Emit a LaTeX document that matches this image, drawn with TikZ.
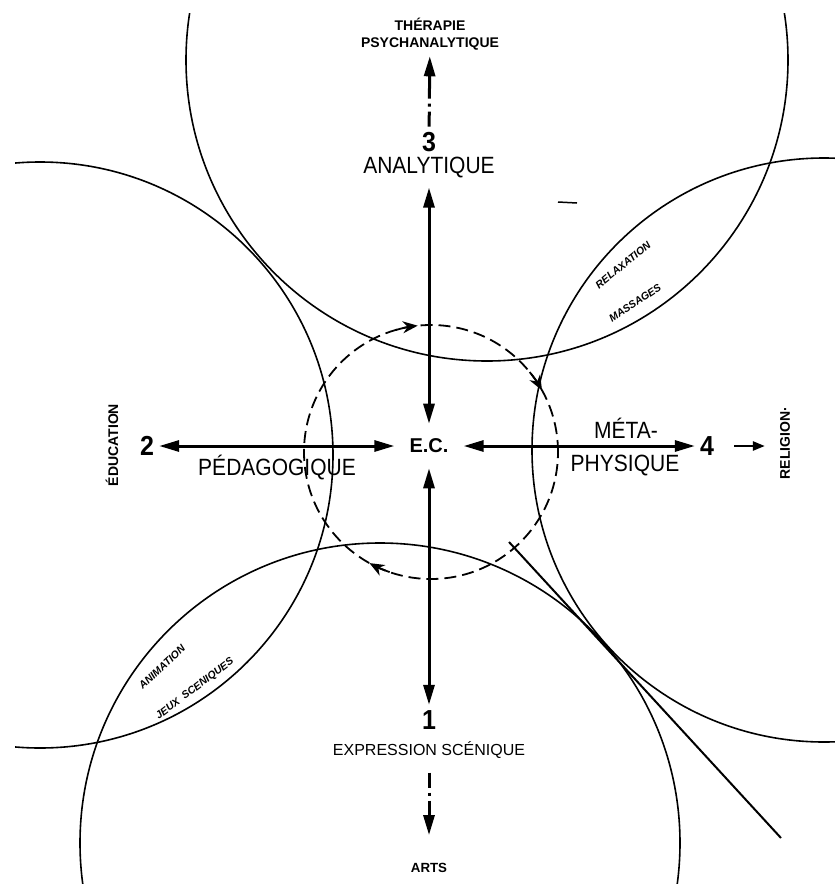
\documentclass[tikz,border=0pt]{standalone}
\usepackage{fontspec}
\setmainfont{Liberation Sans}
\usetikzlibrary{arrows.meta}

\begin{document}
\begin{tikzpicture}[
    x=1pt, y=-1pt,
    every node/.style={inner sep=2pt},
    ring/.style={line width=1.6pt},
    lbl/.style={font=\fontsize{21}{24}\selectfont, yscale=1.12},
    num/.style={font=\fontsize{25}{28}\selectfont\bfseries, inner sep=5pt, yscale=1.1},
    minor/.style={font=\fontsize{14}{17}\selectfont\bfseries, align=center},
    lenstext/.style={font=\fontsize{10.5}{12}\selectfont\bfseries\itshape, inner sep=0pt},
    twoway/.style={line width=3pt, {Triangle[length=20pt,width=11pt]}-{Triangle[length=20pt,width=11pt]}},
    outward/.style={line width=3pt, dash pattern=on 15pt off 5pt on 3pt off 5pt on 40pt, -{Triangle[length=20pt,width=11pt]}},
    spinarrow/.style={line width=1.8pt, -{Stealth[length=15pt,width=12pt]}},
    smallarrow/.style={line width=2.5pt, -{Triangle[length=12pt,width=9pt]}}
]
\useasboundingbox (0,0) rectangle (835,884);

% the four fields
\coordinate (ctop) at (487,60);
\coordinate (cleft) at (40,455);
\coordinate (cright) at (824,450);
\coordinate (cbot) at (380,843);
\coordinate (cmid) at (431,452);

\begin{scope}
\clip (15,13) rectangle (835,884);
\draw[ring] (ctop) circle[radius=301pt];
\draw[ring] (cleft) circle[radius=293pt];
\draw[ring] (cright) circle[radius=292pt];
\draw[ring] (cbot) circle[radius=300pt];
\end{scope}

% tangent and stray mark
\coordinate (ta) at (509,542);
\coordinate (tb) at (781,838);
\draw[line width=2pt] (ta) -- (tb);
\coordinate (da) at (558,202);
\coordinate (db) at (577,203);
\draw[line width=1.5pt] (da) -- (db);

% centre cycle
\draw[line width=1.8pt, dash pattern=on 12pt off 6pt] (cmid) circle[radius=127pt];
\foreach \a in {96,29,241}
    \draw[spinarrow] ([shift={({\a+10}:127pt)}]cmid) arc[start angle=\a+10, end angle=\a, radius=127pt];

% centre and axes
\node[font=\fontsize{20}{24}\selectfont\bfseries, inner sep=15pt] (ec) at (429,446) {E.C.};

\node[lbl, inner sep=8pt] (ana) at (429,168) {ANALYTIQUE};
\node[num] (n3) at (429,142) {3};
\node[minor] (ther) at (430,34) {THÉRAPIE\\PSYCHANALYTIQUE};

\node[num] (n1) at (429,720) {1};
\node[lbl, font=\fontsize{16}{19}\selectfont, yscale=1/1.12] (expr) at (429,750) {EXPRESSION SCÉNIQUE};
\node[minor, font=\fontsize{13.3}{16}\selectfont\bfseries] (arts) at (429,868) {ARTS};

\node[num] (n2) at (147,446) {2};
\node[lbl] (peda) at (277,468) {PÉDAGOGIQUE};
\node[minor, rotate=90] (educ) at (112,445) {ÉDUCATION};

\node[num] (n4) at (707,446) {4};
\node[lbl] (meta) at (626,428) {MÉTA-};
\node[lbl] (phys) at (625,466) {PHYSIQUE};
\node[minor, rotate=90] (reli) at (785,443) {RELIGION·};

\draw[twoway] (ana) -- (ec);
\draw[twoway] (ec) -- (n1);
\draw[twoway] (n2) -- (ec);
\draw[twoway] (ec) -- (n4);
\draw[outward, shorten >=4pt] (n3) -- (ther);
\draw[outward, shorten <=12pt, shorten >=26pt] (expr) -- (arts);
\draw[smallarrow, shorten <=15pt, shorten >=13pt] (n4.east) -- (n4.east -| reli.north);

% lens labels
\node[lenstext, rotate=39] (relax) at (623,265) {RELAXATION};
\node[lenstext, rotate=34] (mass) at (635,303) {MASSAGES};
\node[lenstext, rotate=43] (anim) at (162,667) {ANIMATION};
\node[lenstext, rotate=37] (jeux) at (195,689) {JEUX\enspace SCENIQUES};

\end{tikzpicture}
\end{document}
